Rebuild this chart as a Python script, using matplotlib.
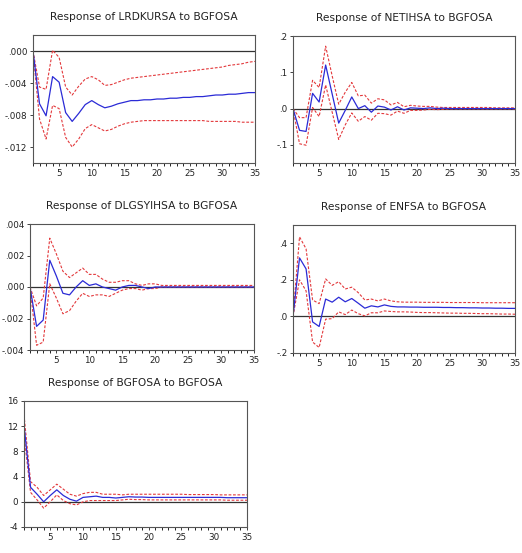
import numpy as np
from matplotlib import pyplot as plt

periods = list(range(1, 36))

# Response of LRDKURSA to BGFOSA
lrd_resp = [0.0, -0.0066, -0.0081, -0.0032, -0.0039, -0.0077, -0.0088, -0.0078, -0.0067, -0.0062,
            -0.0067, -0.0071, -0.0069, -0.0066, -0.0064, -0.0062, -0.0062, -0.0061, -0.0061, -0.0060,
            -0.0060, -0.0059, -0.0059, -0.0058, -0.0058, -0.0057, -0.0057, -0.0056, -0.0055, -0.0055,
            -0.0054, -0.0054, -0.0053, -0.0052, -0.0052]
lrd_up = [0.0, -0.0045, -0.0048, 0.0001, -0.0008, -0.0045, -0.0055, -0.0044, -0.0035, -0.0032,
          -0.0036, -0.0043, -0.0042, -0.0039, -0.0036, -0.0034, -0.0033, -0.0032, -0.0031, -0.0030,
          -0.0029, -0.0028, -0.0027, -0.0026, -0.0025, -0.0024, -0.0023, -0.0022, -0.0021, -0.0020,
          -0.0018, -0.0017, -0.0016, -0.0014, -0.0013]
lrd_lo = [0.0, -0.0085, -0.0110, -0.0068, -0.0072, -0.0108, -0.0120, -0.0110, -0.0097, -0.0092,
          -0.0096, -0.0100, -0.0098, -0.0094, -0.0091, -0.0089, -0.0088, -0.0087, -0.0087, -0.0087,
          -0.0087, -0.0087, -0.0087, -0.0087, -0.0087, -0.0087, -0.0087, -0.0088, -0.0088, -0.0088,
          -0.0088, -0.0088, -0.0089, -0.0089, -0.0089]

# Response of NETIHSA to BGFOSA
net_resp = [0.0, -0.060, -0.063, 0.042, 0.018, 0.120, 0.040, -0.040, -0.005, 0.032,
            0.000, 0.008, -0.010, 0.007, 0.004, -0.004, 0.005, -0.004, 0.002, 0.001,
            0.000, 0.002, 0.000, 0.001, 0.000, 0.000, 0.000, 0.000, 0.000, 0.000,
            0.000, 0.000, 0.000, 0.000, 0.000]
net_up = [0.0, -0.025, -0.025, 0.078, 0.058, 0.172, 0.090, 0.012, 0.045, 0.072,
          0.035, 0.037, 0.015, 0.027, 0.024, 0.010, 0.017, 0.005, 0.009, 0.007,
          0.006, 0.006, 0.004, 0.003, 0.003, 0.003, 0.003, 0.003, 0.003, 0.003,
          0.003, 0.002, 0.002, 0.002, 0.002]
net_lo = [0.0, -0.097, -0.101, 0.003, -0.022, 0.065, -0.010, -0.085, -0.045, -0.012,
          -0.035, -0.022, -0.032, -0.013, -0.014, -0.018, -0.007, -0.013, -0.005, -0.005,
          -0.004, -0.002, -0.003, -0.002, -0.001, -0.001, -0.001, -0.001, -0.001, -0.001,
          -0.001, -0.001, -0.001, -0.001, -0.001]

# Response of DLGSYIHSA to BGFOSA
dlg_resp = [0.0, -0.0025, -0.0021, 0.0017, 0.0007, -0.0004, -0.0005, 0.0000, 0.0004, 0.0001,
            0.0002, 0.0000, -0.0001, -0.0002, 0.0000, 0.0001, 0.0001, 0.0000, -0.0001, 0.0000,
            0.0000, 0.0000, 0.0000, 0.0000, 0.0000, 0.0000, 0.0000, 0.0000, 0.0000, 0.0000,
            0.0000, 0.0000, 0.0000, 0.0000, 0.0000]
dlg_up = [0.0, -0.0012, -0.0007, 0.0031, 0.0021, 0.0010, 0.0006, 0.0009, 0.0012, 0.0008,
          0.0008, 0.0005, 0.0003, 0.0003, 0.0004, 0.0004, 0.0002, 0.0001, 0.0002, 0.0002,
          0.0001, 0.0001, 0.0001, 0.0001, 0.0001, 0.0001, 0.0001, 0.0001, 0.0001, 0.0001,
          0.0001, 0.0001, 0.0001, 0.0001, 0.0001]
dlg_lo = [0.0, -0.0037, -0.0035, 0.0002, -0.0007, -0.0017, -0.0015, -0.0009, -0.0004, -0.0006,
          -0.0005, -0.0005, -0.0006, -0.0004, -0.0002, -0.0001, -0.0001, -0.0002, -0.0001, -0.0001,
          0.0000, 0.0000, 0.0000, 0.0000, 0.0000, 0.0000, 0.0000, 0.0000, 0.0000, 0.0000,
          0.0000, 0.0000, 0.0000, 0.0000, 0.0000]

# Response of ENFSA to BGFOSA
enf_resp = [0.0, 0.320, 0.260, -0.030, -0.055, 0.095, 0.078, 0.105, 0.080, 0.098,
            0.072, 0.045, 0.058, 0.052, 0.063, 0.055, 0.052, 0.052, 0.051, 0.051,
            0.050, 0.050, 0.050, 0.049, 0.049, 0.048, 0.048, 0.047, 0.047, 0.046,
            0.046, 0.045, 0.045, 0.044, 0.044]
enf_up = [0.0, 0.435, 0.370, 0.090, 0.070, 0.205, 0.170, 0.190, 0.150, 0.160,
          0.130, 0.090, 0.095, 0.085, 0.095, 0.085, 0.080, 0.078, 0.078, 0.078,
          0.077, 0.077, 0.077, 0.077, 0.076, 0.076, 0.076, 0.076, 0.076, 0.075,
          0.075, 0.075, 0.075, 0.075, 0.075]
enf_lo = [0.0, 0.200, 0.140, -0.140, -0.170, -0.015, -0.012, 0.025, 0.010, 0.035,
          0.015, 0.003, 0.020, 0.020, 0.030, 0.027, 0.025, 0.025, 0.024, 0.022,
          0.021, 0.021, 0.020, 0.019, 0.018, 0.018, 0.017, 0.017, 0.016, 0.015,
          0.015, 0.014, 0.013, 0.013, 0.012]

# Response of BGFOSA to BGFOSA
bgf_resp = [12.2, 2.3, 1.2, 0.0, 1.0, 1.9, 1.0, 0.4, 0.1, 0.7,
            0.8, 0.9, 0.7, 0.7, 0.6, 0.7, 0.8, 0.75, 0.75, 0.7,
            0.7, 0.7, 0.7, 0.7, 0.7, 0.7, 0.7, 0.7, 0.7, 0.7,
            0.7, 0.65, 0.65, 0.65, 0.65]
bgf_up = [13.8, 3.2, 2.3, 1.0, 1.9, 2.8, 2.0, 1.2, 0.9, 1.3,
          1.5, 1.5, 1.2, 1.2, 1.2, 1.1, 1.2, 1.2, 1.2, 1.2,
          1.2, 1.2, 1.2, 1.2, 1.2, 1.15, 1.15, 1.15, 1.15, 1.15,
          1.1, 1.1, 1.1, 1.1, 1.1]
bgf_lo = [10.6, 1.5, 0.3, -1.0, 0.0, 1.1, 0.2, -0.3, -0.5, 0.0,
          0.2, 0.2, 0.2, 0.2, 0.2, 0.3, 0.4, 0.35, 0.35, 0.3,
          0.3, 0.3, 0.3, 0.3, 0.3, 0.3, 0.3, 0.3, 0.3, 0.3,
          0.3, 0.25, 0.25, 0.25, 0.25]

panels = [
    ('Response of LRDKURSA to BGFOSA', lrd_resp, lrd_up, lrd_lo,
     (-0.014, 0.002), [-0.012, -0.008, -0.004, 0.0], ['-.012', '-.008', '-.004', '.000']),
    ('Response of NETIHSA to BGFOSA', net_resp, net_up, net_lo,
     (-0.15, 0.2), [-0.1, 0.0, 0.1, 0.2], ['-.1', '.0', '.1', '.2']),
    ('Response of DLGSYIHSA to BGFOSA', dlg_resp, dlg_up, dlg_lo,
     (-0.004, 0.004), [-0.004, -0.002, 0.0, 0.002, 0.004], ['-.004', '-.002', '.000', '.002', '.004']),
    ('Response of ENFSA to BGFOSA', enf_resp, enf_up, enf_lo,
     (-0.2, 0.5), [-0.2, 0.0, 0.2, 0.4], ['-.2', '.0', '.2', '.4']),
    ('Response of BGFOSA to BGFOSA', bgf_resp, bgf_up, bgf_lo,
     (-4, 16), [-4, 0, 4, 8, 12, 16], ['-4', '0', '4', '8', '12', '16']),
]

# axes boxes in pixels: left, top, right, bottom
W, H = 522, 553
boxes = [(33, 35, 255, 163), (293, 36, 515, 163),
         (30, 224, 254, 350), (293, 225, 515, 353),
         (24, 401, 247, 527)]

fig = plt.figure(figsize=(W / 100, H / 100), dpi=100)

for (title, resp, up, lo, ylim, yt, ytl), (l, t, r, b) in zip(panels, boxes):
    ax = fig.add_axes([l / W, 1 - b / H, (r - l) / W, (b - t) / H])
    ax.axhline(0, color='#333333', lw=0.9, zorder=1)
    ax.plot(periods, up, '--', color='#e3393c', lw=0.8, dashes=(2.5, 1.5))
    ax.plot(periods, lo, '--', color='#e3393c', lw=0.8, dashes=(2.5, 1.5))
    ax.plot(periods, resp, '-', color='#2b2bd6', lw=0.9)
    ax.set_xlim(1, 35)
    ax.set_ylim(*ylim)
    ax.set_xticks([5, 10, 15, 20, 25, 30, 35])
    ax.set_xticks(periods, minor=True)
    ax.set_yticks(yt)
    ax.set_yticklabels(ytl)
    ax.tick_params(labelsize=6.3, length=2.5, width=0.6, pad=1.5, colors='#222222')
    ax.tick_params(which='minor', length=2, width=0.6)
    for s in ax.spines.values():
        s.set_color('#555555')
        s.set_linewidth(0.8)
    ax.set_title(title, fontsize=7.7, pad=11, color='#222222')

plt.savefig('out.png', dpi=100)
